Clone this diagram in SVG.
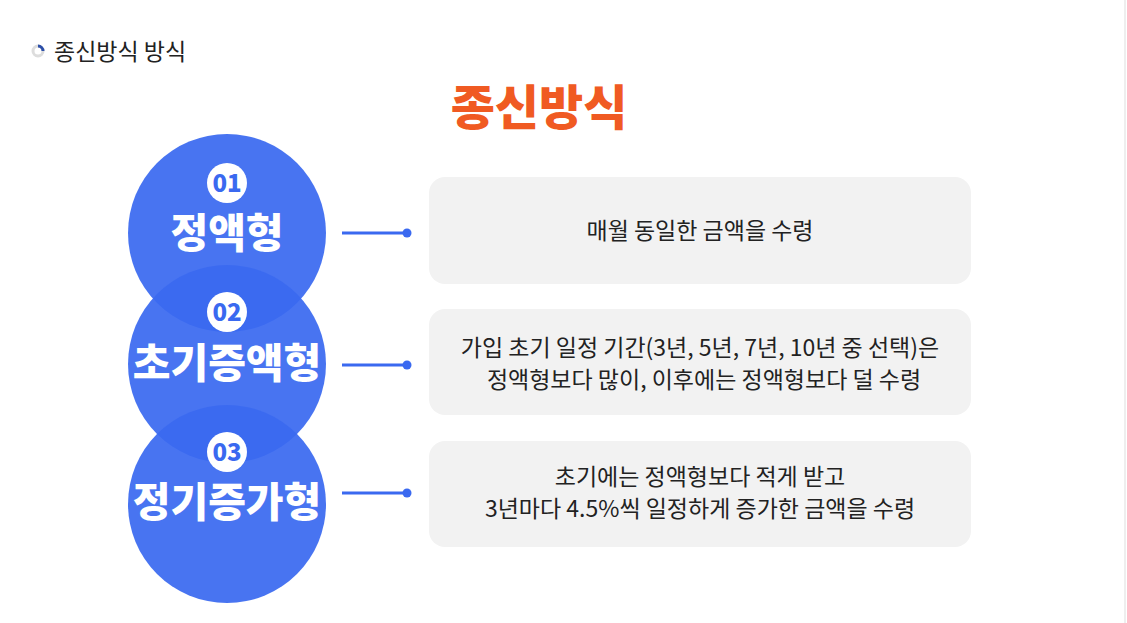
<svg xmlns="http://www.w3.org/2000/svg" width="1127" height="623" viewBox="0 0 1127 623">
<style>
.k{font-family:"Noto Sans CJK KR","Noto Sans",sans-serif}
.c{fill:#3a69f0;fill-opacity:0.93}
.b{fill:#fff}
.n{font-size:24px;font-weight:900;fill:#3a69f0;text-anchor:middle}
.t{font-size:41px;font-weight:900;fill:#fff;text-anchor:middle}
.box{fill:#f2f2f2}
.d{font-size:23px;fill:#222;text-anchor:middle}
.ln{stroke:#3a69f0;stroke-width:3}
</style>
<rect width="1127" height="623" fill="#fff"/>
<line x1="1125" y1="0" x2="1125" y2="623" stroke="#eee" stroke-width="2"/>
<g id="header">
<circle cx="38" cy="51" r="5" fill="none" stroke="#ddd" stroke-width="3"/>
<path d="M38 46 A5 5 0 0 1 43 51" fill="none" stroke="#2d4fa8" stroke-width="3"/>
<text x="54" y="60" class="k" font-size="23" fill="#222">종신방식 방식</text>
<text x="539" y="125" class="k" font-size="48" font-weight="900" fill="#f05a22" text-anchor="middle">종신방식</text>
</g>
<g id="node1"><circle class="c" cx="227" cy="233" r="99"/><circle class="b" cx="227" cy="183" r="20"/><text class="k n" x="227" y="192">01</text><text class="k t" x="227" y="248">정액형</text></g>
<g id="node2"><circle class="c" cx="227" cy="364" r="99"/><circle class="b" cx="227" cy="312" r="20"/><text class="k n" x="227" y="321">02</text><text class="k t" x="227" y="378">초기증액형</text></g>
<g id="node3"><circle class="c" cx="227" cy="504" r="99"/><circle class="b" cx="227" cy="452" r="20"/><text class="k n" x="227" y="461">03</text><text class="k t" x="227" y="517">정기증가형</text></g>
<g id="connectors">
<line class="ln" x1="342" y1="233" x2="407" y2="233"/><circle cx="407" cy="233" r="4.5" fill="#3a69f0"/>
<line class="ln" x1="342" y1="365" x2="407" y2="365"/><circle cx="407" cy="365" r="4.5" fill="#3a69f0"/>
<line class="ln" x1="342" y1="493" x2="407" y2="493"/><circle cx="407" cy="493" r="4.5" fill="#3a69f0"/>
</g>
<g id="box1"><rect class="box" x="429" y="177" width="542" height="107" rx="16"/><text class="k d" x="700" y="239">매월 동일한 금액을 수령</text></g>
<g id="box2"><rect class="box" x="429" y="309" width="542" height="106" rx="16"/><text class="k d" x="700" y="356">가입 초기 일정 기간(3년, 5년, 7년, 10년 중 선택)은</text><text class="k d" x="704" y="388">정액형보다 많이, 이후에는 정액형보다 덜 수령</text></g>
<g id="box3"><rect class="box" x="429" y="441" width="542" height="106" rx="16"/><text class="k d" x="700" y="485">초기에는 정액형보다 적게 받고</text><text class="k d" x="700" y="517">3년마다 4.5%씩 일정하게 증가한 금액을 수령</text></g>
</svg>
